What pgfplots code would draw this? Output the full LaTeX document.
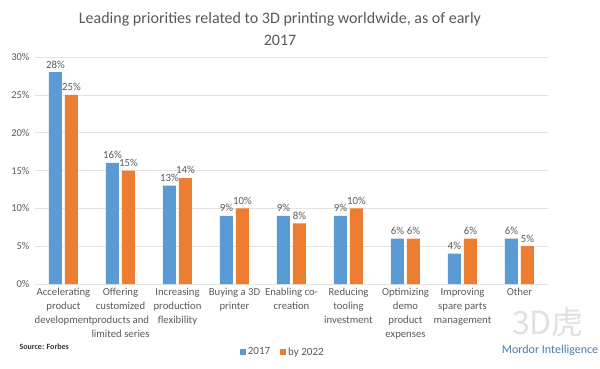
\documentclass[border=0pt]{standalone}
\usepackage{pgfplots}
\pgfplotsset{compat=1.18}
\usepackage{fontspec}
\setmainfont{Carlito}
\newfontfamily\cjk{Noto Sans CJK SC}
\definecolor{cblue}{HTML}{5B9BD5}
\definecolor{corange}{HTML}{ED7D31}
\definecolor{tgray}{HTML}{595959}
\definecolor{ggray}{HTML}{E3E3E3}
\begin{document}
\begin{tikzpicture}
\useasboundingbox (0pt,0pt) rectangle (600pt,368pt);
\begin{axis}[
  at={(35pt,84pt)}, anchor=south west, scale only axis,
  width=513pt, height=227pt,
  ymin=0, ymax=30, ytick={0,5,...,30},
  yticklabel={\pgfmathprintnumber{\tick}\%},
  xmin=-0.5, xmax=8.5, xtick={0,...,8},
  xticklabels={{Accelerating\\product\\development},{Offering\\customized\\products and\\limited series},{Increasing\\production\\flexibility},{Buying a 3D\\printer},{Enabling co-\\creation},{Reducing\\tooling\\investment},{Optimizing\\demo\\product\\expenses},{Improving\\spare parts\\management},{Other}},
  xticklabel style={align=center, font=\fontsize{10.7}{14}\selectfont, text=tgray, yshift=-1pt},
  yticklabel style={font=\fontsize{10.5}{12}\selectfont, text=tgray, xshift=-2pt},
  /pgf/number format/assume math mode=true,
  ybar=3pt, bar width=13pt,
  axis x line*=bottom, axis y line*=left,
  y axis line style={draw=none},
  x axis line style={ggray, line width=0.8pt},
  ymajorgrids, grid style={ggray, line width=0.6pt},
  major tick length=0pt,
  nodes near coords={\pgfmathprintnumber{\pgfplotspointmeta}\%},
  every node near coord/.append style={font=\fontsize{10.8}{12}\selectfont, text=tgray, yshift=0.5pt},
  legend style={at={(0.483,-0.30)}, anchor=center, legend columns=2, draw=none, font=\fontsize{11}{13}\selectfont, text=tgray, /tikz/every even column/.append style={column sep=8pt}},
  legend image code/.code={\fill[#1] (0pt,-3pt) rectangle (6pt,3pt);},
  clip=false,
]
\addplot[fill=cblue, draw=none] coordinates {(0,28) (1,16) (2,13) (3,9) (4,9) (5,9) (6,6) (7,4) (8,6)};
\addplot[fill=corange, draw=none] coordinates {(0,25) (1,15) (2,14) (3,10) (4,8) (5,10) (6,6) (7,6) (8,5)};
\legend{2017, by 2022}
\end{axis}
\node[align=center, text=tgray, font=\fontsize{16}{22}\selectfont] at (280pt,339pt) {Leading priorities related to 3D printing worldwide, as of early\\2017};
\node[anchor=west, font=\bfseries\fontsize{8}{9}\selectfont, text=black!80] at (16pt,21pt) {Source: Forbes};
\node[text=black!12, font=\cjk\fontsize{32}{34}\selectfont] at (548pt,46pt) {3D虎};
\node[text=cblue!80!black, font=\fontsize{12}{13}\selectfont] at (550pt,18pt) {Mordor Intelligence};
\end{tikzpicture}
\end{document}
